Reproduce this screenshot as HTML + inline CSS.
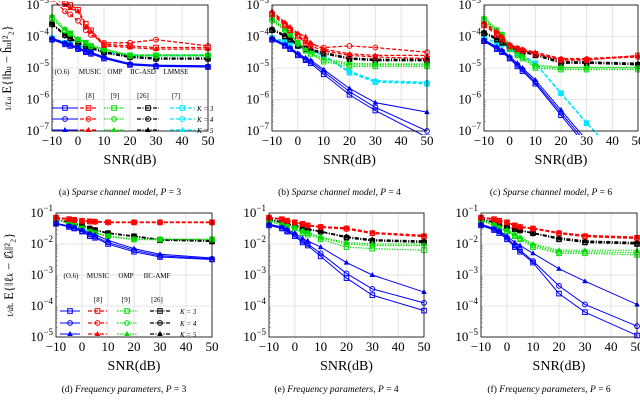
<!DOCTYPE html>
<html><head><meta charset="utf-8"><style>
body{margin:0;background:#fff;}
svg{display:block;font-family:"Liberation Serif",serif;}
</style></head><body>
<svg id="fig" width="640" height="404" viewBox="0 0 640 404"></svg>
<script>
const snr=[-10,-5,-3,0,3,5,10,20,30,50];
const xTicks=[-10,0,10,20,30,40,50];
// panel (a)
const aBlue3=[-4.1,-4.25,-4.3,-4.4,-4.5,-4.55,-4.7,-4.9,-4.95,-4.97];
const aBlue4=[-4.08,-4.22,-4.27,-4.37,-4.47,-4.52,-4.67,-4.88,-4.93,-4.95];
const aBlue5=[-4.05,-4.2,-4.25,-4.35,-4.45,-4.5,-4.65,-4.86,-4.91,-4.93];
const aRed3=[-2.6,-2.9,-3.0,-3.15,-3.6,-3.8,-4.25,-4.3,-4.35,-4.35];
const aRed4=[-2.8,-3.2,-3.3,-3.5,-3.8,-3.95,-4.2,-4.2,-4.1,-4.3];
const aRed5=[-2.7,-3.0,-3.1,-3.2,-3.7,-3.85,-4.3,-4.35,-4.4,-4.4];
const aGrn3=[-3.4,-3.8,-3.9,-4.1,-4.2,-4.3,-4.4,-4.6,-4.6,-4.6];
const aGrn4=[-3.45,-3.82,-3.92,-4.12,-4.22,-4.32,-4.42,-4.62,-4.62,-4.62];
const aGrn5=[-3.35,-3.75,-3.88,-4.08,-4.18,-4.28,-4.4,-4.58,-4.58,-4.58];
const aBlk3=[-3.6,-3.95,-4.05,-4.2,-4.3,-4.35,-4.5,-4.65,-4.7,-4.7];
const aBlk4=[-3.62,-3.97,-4.07,-4.22,-4.32,-4.37,-4.52,-4.67,-4.72,-4.72];
const aBlk5=[-3.58,-3.93,-4.03,-4.18,-4.28,-4.33,-4.48,-4.63,-4.68,-4.68];
const aCyn3=[-4.05,-4.2,-4.22,-4.3,-4.35,-4.4,-4.5,-4.6,-4.6,-4.6];
const aCyn4=[-4.06,-4.21,-4.23,-4.31,-4.36,-4.41,-4.51,-4.61,-4.61,-4.61];
const aCyn5=[-4.04,-4.19,-4.21,-4.29,-4.34,-4.39,-4.49,-4.59,-4.59,-4.59];
// panel (b)
const bBlue3=[-4.1,-4.3,-4.4,-4.6,-4.75,-4.85,-5.2,-5.85,-6.35,-7.2];
const bBlue4=[-4.08,-4.28,-4.38,-4.57,-4.72,-4.8,-5.12,-5.75,-6.25,-7.0];
const bBlue5=[-4.05,-4.25,-4.35,-4.53,-4.68,-4.75,-5.05,-5.65,-6.1,-6.4];
const bRed3=[-3.3,-3.65,-3.8,-4.0,-4.2,-4.3,-4.45,-4.6,-4.65,-4.7];
const bRed4=[-3.25,-3.6,-3.75,-3.95,-4.15,-4.25,-4.35,-4.3,-4.35,-4.5];
const bRed5=[-3.2,-3.55,-3.7,-3.9,-4.0,-4.2,-4.4,-4.55,-4.6,-4.6];
const bGrn3=[-3.4,-3.75,-3.9,-4.2,-4.45,-4.55,-4.8,-4.95,-4.95,-4.95];
const bGrn4=[-3.5,-3.8,-3.95,-4.22,-4.45,-4.55,-4.75,-4.9,-4.9,-4.9];
const bGrn5=[-3.45,-3.78,-3.92,-4.2,-4.4,-4.5,-4.7,-4.85,-4.87,-4.87];
const bBlk3=[-3.8,-4.0,-4.1,-4.3,-4.4,-4.45,-4.55,-4.72,-4.77,-4.77];
const bBlk4=[-3.78,-3.98,-4.08,-4.28,-4.38,-4.43,-4.52,-4.7,-4.75,-4.75];
const bBlk5=[-3.75,-3.95,-4.05,-4.25,-4.35,-4.4,-4.5,-4.68,-4.72,-4.72];
const bCyn3=[-4.05,-4.15,-4.2,-4.3,-4.4,-4.45,-4.6,-5.15,-5.45,-5.5];
const bCyn4=[-4.06,-4.16,-4.21,-4.31,-4.41,-4.46,-4.61,-5.12,-5.42,-5.47];
const bCyn5=[-4.04,-4.14,-4.19,-4.29,-4.39,-4.44,-4.59,-5.1,-5.4,-5.45];
// panel (c)
const cBlue3=[-4.15,-4.4,-4.5,-4.7,-4.95,-5.1,-5.5,-6.5,-7.5,-9.5];
const cBlue4=[-4.13,-4.37,-4.47,-4.67,-4.9,-5.05,-5.45,-6.42,-7.4,-9.4];
const cBlue5=[-4.1,-4.33,-4.43,-4.63,-4.85,-5.0,-5.38,-6.33,-7.3,-9.3];
const cRed3=[-3.65,-3.95,-4.1,-4.3,-4.4,-4.45,-4.55,-4.75,-4.75,-4.6];
const cRed4=[-3.6,-3.9,-4.05,-4.28,-4.38,-4.43,-4.55,-4.72,-4.72,-4.65];
const cRed5=[-3.55,-3.85,-4.0,-4.25,-4.35,-4.4,-4.5,-4.7,-4.7,-4.62];
const cGrn3=[-3.45,-3.8,-3.95,-4.4,-4.6,-4.7,-5.0,-5.05,-5.05,-5.05];
const cGrn4=[-3.5,-3.85,-4.0,-4.35,-4.55,-4.65,-4.95,-5.0,-5.0,-5.0];
const cGrn5=[-3.4,-3.78,-3.92,-4.3,-4.5,-4.6,-4.9,-4.98,-4.98,-4.98];
const cBlk3=[-3.9,-4.1,-4.2,-4.35,-4.45,-4.5,-4.6,-4.85,-4.85,-4.9];
const cBlk4=[-3.88,-4.08,-4.18,-4.33,-4.43,-4.48,-4.58,-4.82,-4.83,-4.88];
const cBlk5=[-3.85,-4.05,-4.15,-4.3,-4.4,-4.45,-4.55,-4.8,-4.8,-4.85];
const cCyn3=[-4.05,-4.2,-4.25,-4.4,-4.55,-4.6,-4.85,-5.8,-6.75,-8.5];
const cCyn4=[-4.06,-4.21,-4.26,-4.41,-4.56,-4.61,-4.86,-5.81,-6.76,-8.5];
const cCyn5=[-4.04,-4.19,-4.24,-4.39,-4.54,-4.59,-4.84,-5.79,-6.74,-8.5];
// panel (d)
const dBlue3=[-1.35,-1.45,-1.5,-1.6,-1.75,-1.8,-2.0,-2.25,-2.42,-2.5];
const dBlue4=[-1.34,-1.43,-1.48,-1.58,-1.7,-1.76,-1.95,-2.2,-2.38,-2.48];
const dBlue5=[-1.33,-1.42,-1.46,-1.55,-1.65,-1.7,-1.88,-2.15,-2.33,-2.45];
const dRed3=[-1.15,-1.2,-1.22,-1.25,-1.27,-1.28,-1.3,-1.3,-1.3,-1.3];
const dRed4=[-1.16,-1.21,-1.23,-1.26,-1.28,-1.29,-1.31,-1.31,-1.31,-1.31];
const dRed5=[-1.14,-1.19,-1.21,-1.24,-1.26,-1.27,-1.29,-1.29,-1.29,-1.29];
const dGrn3=[-1.2,-1.35,-1.4,-1.5,-1.6,-1.65,-1.75,-1.85,-1.85,-1.85];
const dGrn4=[-1.21,-1.36,-1.41,-1.51,-1.61,-1.66,-1.76,-1.86,-1.86,-1.86];
const dGrn5=[-1.19,-1.34,-1.39,-1.49,-1.59,-1.64,-1.74,-1.84,-1.84,-1.84];
const dBlk3=[-1.2,-1.3,-1.35,-1.4,-1.5,-1.55,-1.65,-1.75,-1.88,-1.92];
const dBlk4=[-1.21,-1.31,-1.36,-1.41,-1.51,-1.56,-1.66,-1.76,-1.87,-1.9];
const dBlk5=[-1.19,-1.29,-1.34,-1.39,-1.49,-1.54,-1.64,-1.74,-1.85,-1.88];
// panel (e)
const eBlue3=[-1.4,-1.5,-1.6,-1.75,-1.95,-2.05,-2.4,-3.1,-3.65,-4.15];
const eBlue4=[-1.38,-1.48,-1.57,-1.7,-1.9,-2.0,-2.3,-2.95,-3.45,-3.9];
const eBlue5=[-1.36,-1.45,-1.53,-1.65,-1.82,-1.9,-2.1,-2.6,-3.0,-3.55];
const eRed3=[-1.15,-1.2,-1.25,-1.3,-1.35,-1.4,-1.45,-1.5,-1.65,-1.75];
const eRed4=[-1.16,-1.21,-1.26,-1.31,-1.36,-1.41,-1.46,-1.52,-1.66,-1.76];
const eRed5=[-1.14,-1.19,-1.24,-1.29,-1.34,-1.39,-1.44,-1.48,-1.63,-1.72];
const eGrn3=[-1.25,-1.4,-1.45,-1.5,-1.65,-1.7,-1.85,-2.1,-2.15,-2.2];
const eGrn4=[-1.24,-1.38,-1.43,-1.48,-1.6,-1.65,-1.8,-2.0,-2.05,-2.05];
const eGrn5=[-1.23,-1.36,-1.41,-1.46,-1.58,-1.62,-1.78,-1.95,-2.0,-2.0];
const eBlk3=[-1.2,-1.3,-1.35,-1.4,-1.48,-1.52,-1.6,-1.8,-1.9,-1.95];
const eBlk4=[-1.21,-1.31,-1.36,-1.41,-1.49,-1.53,-1.61,-1.78,-1.88,-1.93];
const eBlk5=[-1.19,-1.29,-1.34,-1.39,-1.47,-1.51,-1.59,-1.76,-1.86,-1.9];
// panel (f)
const fBlue3=[-1.4,-1.55,-1.65,-1.85,-2.1,-2.25,-2.6,-3.6,-4.2,-4.95];
const fBlue4=[-1.38,-1.52,-1.6,-1.8,-2.05,-2.2,-2.55,-3.35,-3.95,-4.65];
const fBlue5=[-1.36,-1.5,-1.57,-1.75,-1.95,-2.05,-2.3,-2.8,-3.2,-3.95];
const fRed3=[-1.15,-1.2,-1.25,-1.3,-1.4,-1.45,-1.5,-1.65,-1.75,-1.8];
const fRed4=[-1.16,-1.21,-1.26,-1.31,-1.41,-1.46,-1.51,-1.66,-1.76,-1.82];
const fRed5=[-1.14,-1.19,-1.24,-1.29,-1.39,-1.44,-1.49,-1.63,-1.72,-1.78];
const fGrn3=[-1.25,-1.4,-1.5,-1.6,-1.75,-1.85,-2.1,-2.3,-2.3,-2.35];
const fGrn4=[-1.24,-1.38,-1.48,-1.58,-1.72,-1.82,-2.05,-2.25,-2.25,-2.28];
const fGrn5=[-1.23,-1.36,-1.45,-1.55,-1.68,-1.78,-2.0,-2.2,-2.2,-2.2];
const fBlk3=[-1.2,-1.3,-1.38,-1.45,-1.52,-1.56,-1.65,-1.85,-1.95,-2.0];
const fBlk4=[-1.21,-1.31,-1.39,-1.46,-1.53,-1.57,-1.66,-1.83,-1.93,-1.98];
const fBlk5=[-1.19,-1.29,-1.37,-1.44,-1.51,-1.55,-1.64,-1.8,-1.9,-1.95];

const NS='http://www.w3.org/2000/svg';
const svg=document.getElementById('fig');
function mk(tag,attrs,parent){const e=document.createElementNS(NS,tag);for(const k in attrs)e.setAttribute(k,attrs[k]);(parent||svg).appendChild(e);return e;}
const styles={
 blue:{c:'#0000ff',d:'',w:1},
 red:{c:'#ff0000',d:'4,2',w:1.3},
 green:{c:'#00dd00',d:'1.3,1.3',w:1.2},
 black:{c:'#000000',d:'4,1.5,1,1.5',w:1.2},
 cyan:{c:'#00e5ff',d:'4,2',w:1.2}};
const markers=['sq','ci','tr'];
function marker(g,type,x,y,col){
 let m;
 if(type==='sq')m=mk('rect',{x:x-2.3,y:y-2.3,width:4.6,height:4.6,fill:'none',stroke:col,'stroke-width':1},g);
 else if(type==='ci')m=mk('circle',{cx:x,cy:y,r:2.4,fill:'none',stroke:col,'stroke-width':1},g);
 else m=mk('path',{d:`M${x},${y-3}L${x+2.8},${y+2}L${x-2.8},${y+2}Z`,fill:col},g);
 return m;
}
let pid=0;
function panel(p){
 pid++;
 const g=mk('g',{});
 
 
 const X=v=>p.x0+(v+10)/60*(p.x1-p.x0);
 const Y=v=>p.y0+(p.ymax-v)/(p.ymax-p.ymin)*(p.y1-p.y0);
 for(const t of xTicks){const l=mk('line',{x1:X(t),x2:X(t),y1:p.y0,y2:p.y1,stroke:'#dcdcdc','stroke-width':0.8},g);}
 for(let e=p.ymin;e<=p.ymax;e++){const l=mk('line',{x1:p.x0,x2:p.x1,y1:Y(e),y2:Y(e),stroke:'#dcdcdc','stroke-width':0.8},g);
  for(let k=2;k<10;k++){const yy=Y(e-1+Math.log10(k));if(e-1>=p.ymin)mk('line',{x1:p.x0,x2:p.x0+2,y1:yy,y2:yy,stroke:'#888','stroke-width':0.5},g);}
 }
 const cp=mk('clipPath',{id:'cp'+pid},g);mk('rect',{x:p.x0-4,y:p.y0-4,width:p.x1-p.x0+8,height:p.y1-p.y0+8},cp);
 const sg=mk('g',{'clip-path':`url(#cp${pid})`},g);
 
 
 const order=['cyan','black','green','red','blue'];
 for(const nm of order){
  if(!p.series[nm])continue;
  p.series[nm].forEach((arr,i)=>{
   const st=styles[nm];
   const pts=arr.map((v,j)=>X(snr[j])+','+Y(v)).join(' ');
   const pl=mk('polyline',{points:pts,fill:'none',stroke:st.c,'stroke-width':st.w,'stroke-dasharray':st.d},sg);
   
   
   arr.forEach((v,j)=>{const m=marker(sg,markers[i],X(snr[j]),Y(v),st.c);
    
    });
  });
 }
 const bx=mk('rect',{x:p.x0,y:p.y0,width:p.x1-p.x0,height:p.y1-p.y0,fill:'none',stroke:'#000','stroke-width':0.8},g);
 
 for(const t of xTicks){const tx=mk('text',{x:X(t),y:p.y1+14,'font-size':13,'text-anchor':'middle'},g);tx.textContent=(t<0?'\u2212':'')+Math.abs(t);
  }
 for(let e=p.ymin;e<=p.ymax;e++){const tx=mk('text',{x:p.x0-3,y:Y(e)+4,'font-size':13,'text-anchor':'end'},g);
  
  const a=mk('tspan',{},tx);a.textContent='10';const b=mk('tspan',{dy:-6,'font-size':9},tx);b.textContent='\u2212'+Math.abs(e);}
 const xt=mk('text',{x:(p.x0+p.x1)/2,y:p.y1+33,'font-size':14,'text-anchor':'middle'},g);xt.textContent='SNR(dB)';
 
 const cap=mk('text',{x:(p.x0+p.x1)/2-10,y:p.capY,'font-size':9.5,'text-anchor':'middle'},g);
 
 const c1=mk('tspan',{},cap);c1.textContent='('+p.tag+') ';
 const c2=mk('tspan',{'font-style':'italic'},cap);c2.textContent=p.cap;
 const c3=mk('tspan',{},cap);c3.textContent=', ';
 const c4=mk('tspan',{'font-style':'italic'},cap);c4.textContent='P';
 const c5=mk('tspan',{},cap);c5.textContent=' = '+p.P;
 return {X,Y,g};
}
const topCfg={y0:5,y1:131,ymin:-7,ymax:-3,capY:195};
const botCfg={y0:213,y1:337,ymin:-5,ymax:-1,capY:392};
panel(Object.assign({tag:'a',x0:52,x1:208,cap:'Sparse channel model',P:3,series:{blue:[aBlue3,aBlue4,aBlue5],red:[aRed3,aRed4,aRed5],green:[aGrn3,aGrn4,aGrn5],black:[aBlk3,aBlk4,aBlk5],cyan:[aCyn3,aCyn4,aCyn5]}},topCfg));
panel(Object.assign({tag:'b',x0:272,x1:427,cap:'Sparse channel model',P:4,series:{blue:[bBlue3,bBlue4,bBlue5],red:[bRed3,bRed4,bRed5],green:[bGrn3,bGrn4,bGrn5],black:[bBlk3,bBlk4,bBlk5],cyan:[bCyn3,bCyn4,bCyn5]}},topCfg));
panel(Object.assign({tag:'c',x0:484,x1:638,cap:'Sparse channel model',P:6,series:{blue:[cBlue3,cBlue4,cBlue5],red:[cRed3,cRed4,cRed5],green:[cGrn3,cGrn4,cGrn5],black:[cBlk3,cBlk4,cBlk5],cyan:[cCyn3,cCyn4,cCyn5]}},topCfg));
panel(Object.assign({tag:'d',x0:56,x1:212,cap:'Frequency parameters',P:3,series:{blue:[dBlue3,dBlue4,dBlue5],red:[dRed3,dRed4,dRed5],green:[dGrn3,dGrn4,dGrn5],black:[dBlk3,dBlk4,dBlk5]}},botCfg));
panel(Object.assign({tag:'e',x0:269,x1:424,cap:'Frequency parameters',P:4,series:{blue:[eBlue3,eBlue4,eBlue5],red:[eRed3,eRed4,eRed5],green:[eGrn3,eGrn4,eGrn5],black:[eBlk3,eBlk4,eBlk5]}},botCfg));
panel(Object.assign({tag:'f',x0:481,x1:637,cap:'Frequency parameters',P:6,series:{blue:[fBlue3,fBlue4,fBlue5],red:[fRed3,fRed4,fRed5],green:[fGrn3,fGrn4,fGrn5],black:[fBlk3,fBlk4,fBlk5]}},botCfg));

function legend(spec){
 const g=mk('g',{});
 
 
 spec.names.forEach((n,i)=>{const t=mk('text',{x:spec.nameX[i],y:spec.nameY,'font-size':7,'text-anchor':'middle'},g);t.textContent=n;
  });
 spec.refs.forEach((n,i)=>{if(!n)return;const t=mk('text',{x:spec.nameX[i],y:spec.refY,'font-size':7,'text-anchor':'middle'},g);t.textContent=n;
  });
 spec.rows.forEach((ry,r)=>{
  spec.cols.forEach((c,i)=>{const st=styles[c];
   const l=mk('line',{x1:spec.sx[i][0],x2:spec.sx[i][1],y1:ry,y2:ry,stroke:st.c,'stroke-width':st.w,'stroke-dasharray':st.d},g);
   
   marker(g,markers[r],(spec.sx[i][0]+spec.sx[i][1])/2,ry,st.c);});
  const t=mk('text',{x:spec.kx,y:ry+3,'font-size':7,'font-style':'italic'},g);t.textContent='K = '+(r+3);
  
 });
}
legend({id:'a',names:['(O.6)','MUSIC','OMP','IIC-ASD','LMMSE'],nameX:[62,90,115,143,176],nameY:74,refs:['','[8]','[9]','[26]','[7]'],refY:98,
 rows:[108,119,130],cols:['blue','red','green','black','cyan'],sx:[[52,78],[80,97],[104,124],[137,159],[170,195]],kx:197});
legend({id:'d',names:['(O.6)','MUSIC','OMP','IIC-AMF'],nameX:[71,98,126,157],nameY:278,refs:['','[8]','[9]','[26]'],refY:302,
 rows:[311,323,334],cols:['blue','red','green','black'],sx:[[60,80],[88,107],[117,137],[150,170]],kx:180});

function ytitle(x,y,parts,name){const t=mk('text',{x:x,y:y,'font-size':12.5,'text-anchor':'middle',transform:`rotate(-90 ${x} ${y})`});
 
 parts.forEach(p=>{const s=mk('tspan',p.a||{},t);s.textContent=p.t;});}
ytitle(11,68,[{t:'1',a:{'font-size':8}},{t:'/L',a:{'font-size':8,'font-style':'italic'}},{t:'u',a:{'font-size':7,'font-style':'italic'}},{t:' E{‖h'},{t:'u',a:{'font-size':8}},{t:' − ĥ'},{t:'u',a:{'font-size':8}},{t:'‖²₂}'}],'y-axis-title-top');
ytitle(13,275,[{t:'1',a:{'font-size':8}},{t:'/d',a:{'font-size':8,'font-style':'italic'}},{t:'L',a:{'font-size':7}},{t:' E{‖ℓ'},{t:'k',a:{'font-size':8,'font-style':'italic'}},{t:' − ℓ̂'},{t:'k',a:{'font-size':8,'font-style':'italic'}},{t:'‖²₂}'}],'y-axis-title-bottom');
</script>
</body></html>
